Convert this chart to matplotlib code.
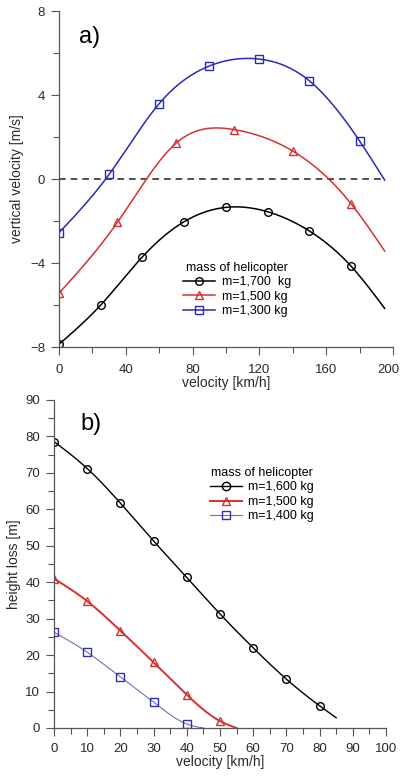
import numpy as np
import matplotlib
matplotlib.use("Agg")
import matplotlib.pyplot as plt
from matplotlib.ticker import MultipleLocator, FuncFormatter

plt.rcParams['font.family'] = ['Liberation Sans', 'DejaVu Sans']

# ---- panel a) data ----
a_x_1700 = [0, 25, 50, 75, 100, 125, 150, 175, 195]
a_y_1700 = [-7.87, -6.0, -3.7, -2.03, -1.35, -1.56, -2.48, -4.16, -6.16]
a_x_1500 = [0, 35, 70, 105, 140, 175, 195]
a_y_1500 = [-5.44, -2.06, 1.70, 2.35, 1.33, -1.19, -3.43]
a_x_1300 = [0, 30, 60, 90, 120, 150, 180, 195]
a_y_1300 = [-2.56, 0.22, 3.59, 5.38, 5.71, 4.67, 1.81, -0.05]
a_labels = ["m=1,700  kg", "m=1,500 kg", "m=1,300 kg"]

# ---- panel b) data ----
b_x_1600 = [0, 10, 20, 30, 40, 50, 60, 70, 80, 85]
b_y_1600 = [78.6, 71.2, 61.7, 51.3, 41.3, 31.3, 22.0, 13.4, 6.1, 2.8]
b_x_1500 = [0, 10, 20, 30, 40, 50, 55]
b_y_1500 = [41.0, 34.8, 26.7, 18.0, 9.1, 1.9, 0.0]
b_x_1400 = [0, 10, 20, 30, 40, 45]
b_y_1400 = [26.3, 20.8, 14.0, 7.1, 1.1, 0.0]
b_labels = ["m=1,600 kg", "m=1,500 kg", "m=1,400 kg"]


def spline(x, y, n=300):
    x = np.asarray(x, float); y = np.asarray(y, float)
    k = len(x); h = np.diff(x)
    A = np.zeros((k, k)); r = np.zeros(k)
    A[0, 0] = 1; A[-1, -1] = 1
    for i in range(1, k - 1):
        A[i, i - 1] = h[i - 1]; A[i, i] = 2 * (h[i - 1] + h[i]); A[i, i + 1] = h[i]
        r[i] = 6 * ((y[i + 1] - y[i]) / h[i] - (y[i] - y[i - 1]) / h[i - 1])
    M = np.linalg.solve(A, r)
    xs = np.linspace(x[0], x[-1], n)
    idx = np.clip(np.searchsorted(x, xs) - 1, 0, k - 2)
    x0 = x[idx]; x1 = x[idx + 1]; hh = x1 - x0
    t0 = x1 - xs; t1 = xs - x0
    ys = (M[idx] * t0**3 + M[idx + 1] * t1**3) / (6 * hh) \
        + (y[idx] / hh - M[idx] * hh / 6) * t0 + (y[idx + 1] / hh - M[idx + 1] * hh / 6) * t1
    return xs, ys


fig = plt.figure(figsize=(4.02, 7.76), dpi=100)
W, H = 402, 776
axA = fig.add_axes([59 / W, 1 - 347 / H, (393 - 59) / W, (347 - 11) / H])
axB = fig.add_axes([54 / W, 1 - 728 / H, (386 - 54) / W, (728 - 400) / H])

TXT = '#2a2a2a'

def style(ax):
    for s in ['top', 'right']:
        ax.spines[s].set_visible(False)
    for s in ['left', 'bottom']:
        ax.spines[s].set_color('#555555')
        ax.spines[s].set_linewidth(0.9)
    ax.tick_params(which='major', length=6, width=0.8, color='#555555', labelsize=9.5,
                   labelcolor=TXT, pad=4)
    ax.tick_params(which='minor', length=4, width=0.8, color='#555555')
    ax.set_facecolor('white')

mk = dict(markerfacecolor='none', markersize=5.5, markeredgewidth=1.0)

# panel a
style(axA)
axA.plot([0, 195], [0, 0], color='#333333', lw=1.2, ls=(0, (4, 3)))
series_a = [(a_x_1700, a_y_1700, 'black', 'o', a_labels[0]),
            (a_x_1500, a_y_1500, '#d83030', '^', a_labels[1]),
            (a_x_1300, a_y_1300, '#2a2ab8', 's', a_labels[2])]
handles = []
for x, y, c, m, lab in series_a:
    xs, ys = spline(x, y)
    axA.plot(xs, ys, color=c, lw=1.1)
    axA.plot(x[:-1], y[:-1], ls='none', marker=m, color=c, **mk)
    handles.append(axA.plot([], [], color=c, lw=1.1, marker=m, **mk, label=lab)[0])
XMAX_A = 200
axA.set_xlim(0, XMAX_A); axA.set_ylim(-8, 8)
axA.xaxis.set_major_locator(MultipleLocator(40)); axA.xaxis.set_minor_locator(MultipleLocator(20))
axA.yaxis.set_major_locator(MultipleLocator(4)); axA.yaxis.set_minor_locator(MultipleLocator(2))
axA.xaxis.set_major_formatter(FuncFormatter(lambda v, p: '' if v >= XMAX_A else f'{v:g}'))
axA.tick_params(axis='x', which='major', pad=6)
# last tick label nudged slightly left so that it stays inside the figure
axA.annotate(f'{XMAX_A:g}', xy=(XMAX_A, 0), xycoords=('data', 'axes fraction'),
             xytext=(-3, -12), textcoords='offset points', ha='center', va='top',
             fontsize=9.5, color=TXT)
axA.set_xlabel('velocity [km/h]', fontsize=10, color=TXT, labelpad=0)
axA.set_ylabel('vertical velocity [m/s]', fontsize=10, color=TXT, labelpad=4)
axA.text(0.06, 0.955, 'a)', transform=axA.transAxes, fontsize=17, va='top', ha='left')
axA.legend(handles=handles, title='mass of helicopter', loc='upper left',
           bbox_to_anchor=(0.352, 0.272), frameon=False, fontsize=9,
           title_fontsize=9, handlelength=2.6, handletextpad=0.5,
           labelspacing=0.2, borderpad=0)

# panel b
style(axB)
series_b = [(b_x_1600, b_y_1600, 'black', 'o', b_labels[0], 1.0, 'black'),
            (b_x_1500, b_y_1500, '#d83030', '^', b_labels[1], 1.4, '#d83030'),
            (b_x_1400, b_y_1400, '#7070b8', 's', b_labels[2], 0.8, '#3030b0')]
handles = []
for x, y, c, m, lab, lw, mc in series_b:
    xs, ys = spline(x, y)
    axB.plot(xs, ys, color=c, lw=lw)
    axB.plot(x[:-1], y[:-1], ls='none', marker=m, color=mc, **mk)
    handles.append(axB.plot([], [], color=c, lw=lw, marker=m, markeredgecolor=mc,
                            markerfacecolor='none', markersize=6, markeredgewidth=1.0, label=lab)[0])
axB.set_xlim(0, 100); axB.set_ylim(0, 90)
axB.xaxis.set_major_locator(MultipleLocator(10)); axB.xaxis.set_minor_locator(MultipleLocator(5))
axB.yaxis.set_major_locator(MultipleLocator(10)); axB.yaxis.set_minor_locator(MultipleLocator(5))
axB.tick_params(axis='x', which='major', pad=5)
axB.set_xlabel('velocity [km/h]', fontsize=10, color=TXT, labelpad=0)
axB.set_ylabel('height loss [m]', fontsize=10, color=TXT, labelpad=3)
axB.text(0.08, 0.96, 'b)', transform=axB.transAxes, fontsize=17, va='top', ha='left')
axB.legend(handles=handles, title='mass of helicopter', loc='upper left',
           bbox_to_anchor=(0.45, 0.815), frameon=False, fontsize=9,
           title_fontsize=9, handlelength=2.6, handletextpad=0.5,
           labelspacing=0.2, borderpad=0)

fig.savefig('out.png', dpi=100, facecolor='white')
